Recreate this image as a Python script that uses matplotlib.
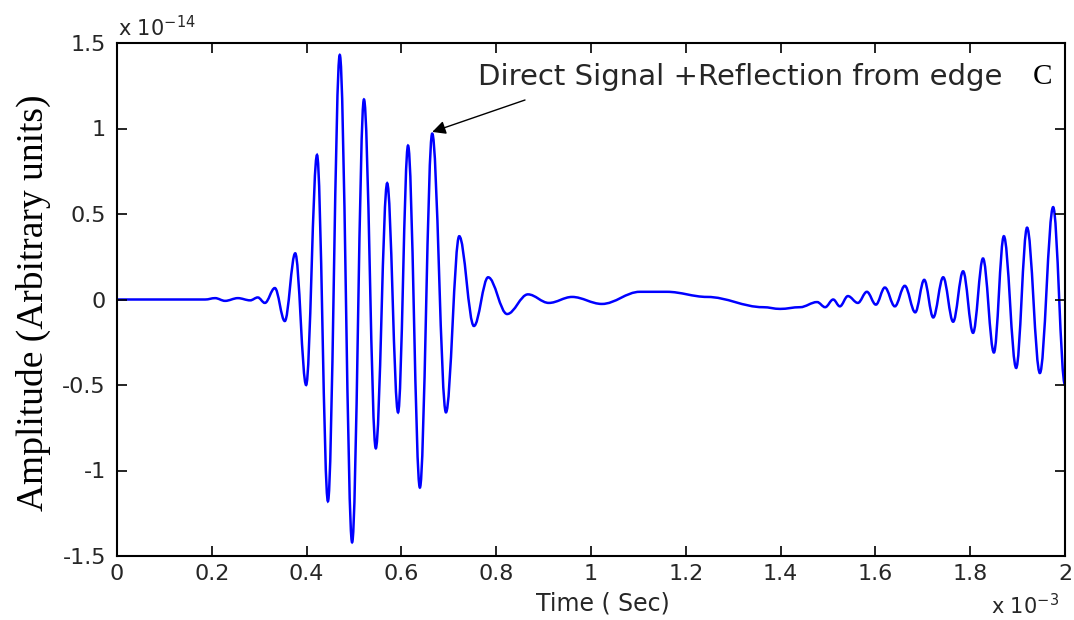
import matplotlib
matplotlib.use("Agg")
import matplotlib.pyplot as plt
from matplotlib.path import Path
from matplotlib.patches import PathPatch

# Time (ms, i.e. x 10^-3 s) and amplitude (x 10^-14) read at the waveform's turning points
time_ms = [0.0, 0.118, 0.186, 0.207, 0.228, 0.255, 0.281, 0.297, 0.312, 0.333,
           0.354, 0.376, 0.399, 0.422, 0.445, 0.470, 0.496, 0.521, 0.546, 0.570,
           0.593, 0.614, 0.639, 0.665, 0.694, 0.722, 0.753, 0.783, 0.823, 0.867,
           0.911, 0.960, 1.023, 1.103, 1.160, 1.245, 1.363, 1.399, 1.441, 1.477,
           1.494, 1.511, 1.525, 1.542, 1.563, 1.582, 1.601, 1.620, 1.641, 1.662,
           1.684, 1.703, 1.722, 1.743, 1.764, 1.785, 1.806, 1.827, 1.850, 1.871,
           1.897, 1.920, 1.947, 1.975, 2.0]
amplitude = [0.0, 0.0, 0.0, 0.008, -0.008, 0.008, -0.005, 0.012, -0.02, 0.067,
             -0.126, 0.27, -0.50, 0.845, -1.18, 1.43, -1.42, 1.17, -0.87, 0.68,
             -0.66, 0.90, -1.10, 0.97, -0.66, 0.37, -0.155, 0.13, -0.085, 0.03,
             -0.02, 0.015, -0.026, 0.045, 0.045, 0.015, -0.045, -0.055, -0.045, -0.015,
             -0.045, 0.0, -0.04, 0.02, -0.02, 0.045, -0.03, 0.07, -0.04, 0.08,
             -0.075, 0.115, -0.105, 0.13, -0.13, 0.165, -0.195, 0.24, -0.31, 0.37,
             -0.40, 0.42, -0.43, 0.54, -0.5]

x_ticks = [0, 0.2, 0.4, 0.6, 0.8, 1, 1.2, 1.4, 1.6, 1.8, 2]
x_tick_labels = ["0", "0.2", "0.4", "0.6", "0.8", "1", "1.2", "1.4", "1.6", "1.8", "2"]
y_ticks = [-1.5, -1, -0.5, 0, 0.5, 1, 1.5]
y_tick_labels = ["-1.5", "-1", "-0.5", "0", "0.5", "1", "1.5"]

annot_text = "Direct Signal +Reflection from edge"
annot_tip = (0.665, 0.98)

W, H = 1074, 620
fig = plt.figure(figsize=(W / 100, H / 100), dpi=100)
ax = fig.add_axes([117 / W, 1 - 556 / H, (1065 - 117) / W, (556 - 43) / H])

# smooth curve through the read turning points (horizontal tangents at each extremum)
verts = [(time_ms[0], amplitude[0])]
codes = [Path.MOVETO]
k = 0.36
for (t0, v0), (t1, v1) in zip(zip(time_ms[:-1], amplitude[:-1]), zip(time_ms[1:], amplitude[1:])):
    dt = t1 - t0
    verts += [(t0 + k * dt, v0), (t1 - k * dt, v1), (t1, v1)]
    codes += [Path.CURVE4] * 3
ax.add_patch(PathPatch(Path(verts, codes), fill=False, edgecolor=(0, 0, 1), lw=1.8,
                       transform=ax.transData, clip_on=True))

sans = "DejaVu Sans"
serif = "Liberation Serif"
tick_col = "#262626"

ax.set_xlim(0, 2)
ax.set_ylim(-1.5, 1.5)
ax.set_xticks(x_ticks, x_tick_labels)
ax.set_yticks(y_ticks, y_tick_labels)

ax.tick_params(axis="both", direction="in", length=7, width=1.2, top=True, right=True,
               labelsize=16, labelcolor=tick_col, labelfontfamily=sans)
ax.tick_params(axis="x", pad=6)
ax.tick_params(axis="y", pad=8)
for sp in ax.spines.values():
    sp.set_linewidth(1.5)
    sp.set_color("black")

fig.text(603 / W, 1 - 603 / H, "Time ( Sec)", fontfamily=sans, fontsize=17,
         color=tick_col, ha="center", va="center")
fig.text(33 / W, 1 - 303 / H, "Amplitude (Arbitrary units)", fontfamily=serif,
         fontsize=27, rotation=90, ha="center", va="center")

# MATLAB-style exponent labels
fig.text(118 / W, 1 - 28 / H, r"x 10$^{\mathregular{-14}}$", fontfamily=sans, fontsize=15,
         va="center", ha="left", color=tick_col)
fig.text(991 / W, 1 - 606 / H, r"x 10$^{\mathregular{-3}}$", fontfamily=sans, fontsize=15,
         va="center", ha="left", color=tick_col)

fig.text(478 / W, 1 - 77 / H, annot_text, fontfamily=sans, fontsize=21,
         va="center", ha="left", color=tick_col)
ax.annotate("", xy=annot_tip, xycoords="data",
            xytext=(525 / W, 1 - 100 / H), textcoords="figure fraction",
            arrowprops=dict(arrowstyle="-|>", color="black", lw=1.0,
                            mutation_scale=20, shrinkA=0, shrinkB=0))
fig.text(1033 / W, 1 - 77 / H, "C", fontfamily=serif, fontsize=21, va="center", ha="left")

fig.savefig("out.png", dpi=100)
